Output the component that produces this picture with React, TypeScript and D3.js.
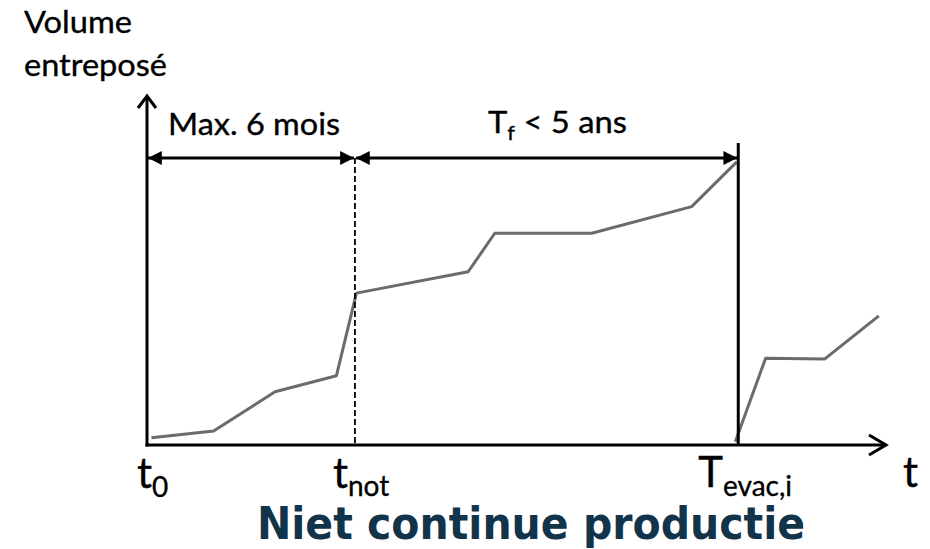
import React from "react";
import * as d3 from "d3";

// time (arbitrary units) and stored volume
const cycle1T = [0.06, 0.9, 1.73, 2.56, 2.83, 4.34, 4.7, 6.01, 7.36, 7.97];
const cycle1V = [0.21, 0.4, 1.52, 1.98, 4.34, 4.95, 6.05, 6.05, 6.81, 8.09];
const cycle2T = [7.95, 8.36, 9.16, 9.89];
const cycle2V = [0.09, 2.48, 2.46, 3.69];

// moments on the time axis
const tNot = 2.81;
const tEvac = 7.99;
const spanY = 8.2;
const evacTop = 8.63;

const spanLabels = ["Max. 6 mois", "< 5 ans"];

const W = 930;
const H = 549;

export default function App() {
  const x = d3.scaleLinear().domain([0, 10]).range([147, 887]);
  const y = d3.scaleLinear().domain([0, 10]).range([445, 95]);

  const line = d3
    .line<[number, number]>()
    .x((d) => x(d[0]))
    .y((d) => y(d[1]));

  const c1 = cycle1T.map((t, i) => [t, cycle1V[i]] as [number, number]);
  const c2 = cycle2T.map((t, i) => [t, cycle2V[i]] as [number, number]);

  const x0 = x(0);
  const y0 = y(0);
  const xEnd = x(10);
  const yEnd = y(10);
  const ay = y(spanY);
  const font = "Lato, 'Open Sans', sans-serif";
  // slight outline so Lato reads as heavy as the original
  const ink = { fill: "#000", stroke: "#000", strokeWidth: 0.35 };

  return (
    <svg width={W} height={H} style={{ position: "absolute", left: 0, top: 0, background: "#fff" }}>
      <defs>
        <marker id="tri" viewBox="0 0 10 10" refX="10" refY="5" markerWidth="5.5" markerHeight="4.6" orient="auto-start-reverse" markerUnits="strokeWidth">
          <path d="M0,0 L10,5 L0,10 z" fill="#000" />
        </marker>
      </defs>

      {/* data lines */}
      <path d={line(c1) || ""} fill="none" stroke="#6b6b6b" strokeWidth={3} strokeLinejoin="round" />
      <path d={line(c2) || ""} fill="none" stroke="#6b6b6b" strokeWidth={3} strokeLinejoin="round" />

      {/* t_not dashed marker */}
      <line x1={x(tNot)} x2={x(tNot)} y1={ay} y2={y0} stroke="#000" strokeWidth={1.8} strokeDasharray="6,3" />
      {/* evacuation marker */}
      <line x1={x(tEvac)} x2={x(tEvac)} y1={y(evacTop)} y2={y0} stroke="#000" strokeWidth={3} />

      {/* axes */}
      <line x1={x0} x2={x0} y1={y0 + 1.5} y2={yEnd + 1} stroke="#000" strokeWidth={3} />
      <path d={`M${x0 - 9},${yEnd + 13} L${x0},${yEnd + 1} L${x0 + 9},${yEnd + 13}`} fill="none" stroke="#000" strokeWidth={3} />
      <line x1={x0 - 1.5} x2={xEnd - 1} y1={y0} y2={y0} stroke="#000" strokeWidth={3} />
      <path d={`M${xEnd - 18},${y0 - 10} L${xEnd - 1},${y0} L${xEnd - 18},${y0 + 10}`} fill="none" stroke="#000" strokeWidth={3} />

      {/* span arrows */}
      <line x1={x0 + 1} x2={x(tNot) - 1} y1={ay} y2={ay} stroke="#000" strokeWidth={3} markerStart="url(#tri)" markerEnd="url(#tri)" />
      <line x1={x(tNot) + 1} x2={x(tEvac) - 1} y1={ay} y2={ay} stroke="#000" strokeWidth={3} markerStart="url(#tri)" markerEnd="url(#tri)" />

      {/* span labels */}
      <text x={168} y={135} fontFamily={font} fontSize={30} textLength={172} lengthAdjust="spacingAndGlyphs" {...ink}>
        {spanLabels[0]}
      </text>
      <text x={488} y={133} fontFamily={font} fontSize={30} textLength={139} lengthAdjust="spacingAndGlyphs" {...ink}>
        <tspan>T</tspan>
        <tspan fontSize={20} dy={7}>f</tspan>
        <tspan dy={-7}> {spanLabels[1]}</tspan>
      </text>

      {/* y axis title */}
      <text x={24} y={33} fontFamily={font} fontSize={30} textLength={108} lengthAdjust="spacingAndGlyphs" {...ink}>
        Volume
      </text>
      <text x={24} y={76} fontFamily={font} fontSize={30} textLength={143} lengthAdjust="spacingAndGlyphs" {...ink}>
        entreposé
      </text>

      {/* time axis labels */}
      <text x={x(0) - 10} y={488} fontFamily={font} fontSize={42} {...ink}>
        <tspan>t</tspan>
        <tspan fontSize={28} dy={9}>0</tspan>
      </text>
      <text x={x(tNot) - 22} y={488} fontFamily={font} fontSize={42} {...ink}>
        <tspan>t</tspan>
        <tspan fontSize={28} dy={8}>not</tspan>
      </text>
      <text x={x(tEvac) - 40} y={487} fontFamily={font} fontSize={42} {...ink}>
        <tspan>T</tspan>
        <tspan fontSize={28} dy={9}>evac,i</tspan>
      </text>
      <text x={903} y={487} fontFamily={font} fontSize={42} {...ink}>
        t
      </text>

      {/* caption */}
      <text x={257} y={539} fontFamily="'DejaVu Sans Condensed', 'DejaVu Sans', sans-serif" fontWeight="bold" fontSize={44} textLength={548} lengthAdjust="spacingAndGlyphs" fill="#12344a">
        Niet continue productie
      </text>
    </svg>
  );
}
